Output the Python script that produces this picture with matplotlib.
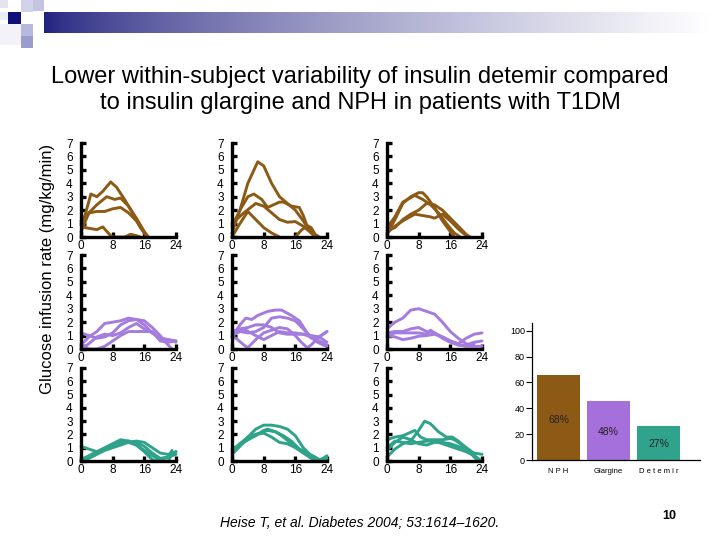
import matplotlib
matplotlib.use("Agg")
import matplotlib.pyplot as plt
import numpy as np
from matplotlib.patches import Rectangle

plt.rcParams["font.family"] = ["Liberation Sans", "DejaVu Sans"]

W, H = 720, 540

BROWN = "#8C5A14"
PURPLE = "#A47BDE"
TEAL = "#2FA38A"

# curves: list of (hour, rate) points, one list per panel
nph_a = [
    [(0, 1.0), (1, 1.6), (2.5, 3.2), (4, 3.0), (5.5, 3.4), (7.5, 4.1), (9, 3.7), (11, 2.8), (13, 1.8), (15, 0.7), (16.5, 0.1), (17, 0)],
    [(0, 0.9), (2, 1.8), (4, 1.9), (6, 1.9), (8, 2.1), (10, 2.2), (12, 1.8), (14, 1.2), (16, 0.3), (17, 0)],
    [(0, 0.4), (2, 1.8), (4, 2.4), (6.5, 3.0), (8.5, 2.8), (10, 2.9), (12, 2.3), (14, 1.4), (16, 0.4), (17, 0)],
    [(0, 1.2), (1, 0.7), (4, 0.55), (5.5, 0.75), (7.5, 0.1), (8, 0), (11, 0), (12.5, 0.2), (14, 0.1), (15, 0)],
]
nph_b = [
    [(0, 0.3), (2, 2.0), (4, 4.0), (6.5, 5.6), (8, 5.3), (10, 4.0), (12, 3.0), (14, 2.5), (16, 2.0), (18, 1.2), (20, 0.3), (21, 0)],
    [(0, 0.8), (2, 2.0), (4, 3.0), (5.5, 3.2), (7.5, 2.8), (9, 2.2), (10.5, 2.4), (12, 2.6), (13, 2.6), (15, 2.3), (17, 2.2), (18, 1.6), (19, 0.8), (20.5, 0.2), (21, 0)],
    [(0, 1.0), (3, 1.8), (6, 2.5), (8, 2.3), (10, 1.8), (12, 1.3), (14, 1.1), (16, 1.15), (18, 0.8), (20, 0.3), (22, 0)],
    [(0, 0), (2, 1.0), (4, 1.9), (6, 1.3), (8, 0.7), (10, 0.3), (12, 0)],
    [(16, 0), (17.5, 0.5), (19, 0.85), (20, 0.7), (21, 0.2), (22, 0)],
]
nph_c = [
    [(0, 0.2), (2, 1.3), (4, 2.5), (6, 3.0), (8, 3.3), (9, 3.3), (10, 3.0), (12, 2.2), (14, 1.2), (16, 0.4), (17, 0)],
    [(0, 0.7), (2, 1.5), (4, 2.6), (7, 3.1), (9, 2.8), (11, 2.4), (13, 1.8), (15, 1.0), (17, 0.3), (18.5, 0)],
    [(0, 0.5), (2, 0.7), (4, 1.3), (6, 1.7), (8, 2.0), (10, 2.5), (12, 2.4), (14, 2.0), (16, 1.4), (18, 0.8), (20, 0.2), (21, 0)],
    [(0, 0.3), (2, 0.8), (4, 1.2), (7, 1.7), (9, 1.6), (11, 1.5), (12, 1.4), (14, 1.7), (16, 1.2), (18, 0.6), (20, 0.1), (20.5, 0)],
]
glar_a = [
    [(0, 1.2), (2, 1.0), (4, 0.8), (6, 0.9), (8, 1.2), (10, 1.8), (12, 2.1), (14, 2.2), (16, 2.1), (18, 1.6), (20, 1.0), (22, 0.3), (23, 0)],
    [(0, 0.3), (2, 0.9), (4, 1.3), (6, 1.9), (8, 2.0), (10, 2.1), (12, 2.3), (14, 2.2), (16, 1.8), (18, 1.2), (20, 0.8), (22, 0.7), (24, 0.5)],
    [(0, 0), (2, 0.4), (4, 0.9), (6, 1.1), (8, 1.0), (10, 1.2), (12, 1.6), (14, 1.9), (16, 1.5), (18, 1.2), (20, 0.8), (22, 0.7), (24, 0.6)],
    [(0, 0.4), (2, 0), (4, 0), (6, 0.2), (8, 0.6), (10, 1.0), (12, 1.3), (14, 1.3), (16, 1.3), (18, 1.3), (20, 0.6), (22, 0.5), (24, 0.6)],
]
glar_b = [
    [(0, 0.9), (2, 1.8), (3.5, 2.3), (5, 2.2), (6.5, 2.5), (9, 2.8), (11, 2.9), (12.5, 2.9), (15, 2.5), (17, 2.1), (19, 1.2), (21, 0.6), (23, 0.3), (24, 0.2)],
    [(0, 1.0), (2, 1.3), (4, 1.2), (6, 1.3), (8, 1.6), (10, 2.3), (12, 2.4), (14, 2.3), (16, 2.1), (18, 1.5), (20, 0.8), (22, 0.9), (24, 1.3)],
    [(0, 1.3), (2, 1.5), (4, 1.6), (6, 1.8), (8, 1.8), (10, 1.6), (12, 1.2), (14, 1.1), (16, 1.1), (18, 1.1), (20, 1.0), (22, 0.9), (24, 0.5)],
    [(0, 0.9), (1, 0.8), (3, 0.3), (4, 0.1), (6, 0.7), (8, 1.2), (10, 1.4), (12, 1.6), (14, 1.5), (16, 1.0), (17.5, 0.5), (19, 0.1), (20, 0.3), (22, 0.9), (24, 1.3)],
    [(0, 1.2), (2, 1.3), (3.5, 1.4), (6, 1.0), (8, 0.7), (10, 1.0), (12, 1.3), (14, 1.2), (16, 1.2), (18, 1.1), (20, 0.9), (22, 0.6), (24, 0.3)],
]
glar_c = [
    [(0, 1.5), (2, 2.0), (4, 2.3), (6, 2.9), (8, 3.0), (10, 2.8), (12, 2.6), (14, 2.0), (16, 1.3), (18, 0.8), (20, 0.4), (21, 0.3), (22, 0.4)],
    [(0, 1.2), (2, 1.3), (4, 1.3), (6, 1.5), (8, 1.6), (10, 1.3), (12, 1.2), (14, 0.9), (16, 0.6), (18, 0.4), (20, 0.8), (22, 1.1), (24, 1.2)],
    [(0, 0.9), (2, 1.2), (4, 1.2), (6, 1.2), (8, 1.2), (10, 1.1), (11, 1.4), (12, 1.2), (14, 0.8), (16, 0.5), (18, 0.3), (20, 0.3), (22, 0.5), (24, 0.6)],
    [(0, 1.0), (2, 0.9), (4, 0.7), (6, 0.8), (8, 0.95), (10, 1.0), (12, 1.1), (14, 0.9), (16, 0.6), (18, 0.3), (20, 0.2), (22, 0.2), (24, 0.2)],
]
det_a = [
    [(0, 1.1), (2, 0.9), (4, 0.7), (6, 0.9), (8, 1.2), (10, 1.4), (12, 1.5), (14, 1.4), (16, 1.1), (18, 0.6), (20, 0.2), (22, 0.3), (24, 0.5)],
    [(0, 0), (2, 0.3), (4, 0.6), (6, 0.9), (8, 1.2), (10, 1.5), (12, 1.4), (14, 1.5), (16, 1.4), (18, 1.0), (20, 0.6), (22, 0.5), (24, 0.7)],
    [(0, 0), (2, 0.2), (4, 0.5), (6, 0.8), (8, 1.0), (10, 1.2), (12, 1.4), (14, 1.2), (16, 0.7), (18, 0.1), (20, 0), (22, 0), (23, 0.5), (24, 0.7)],
    [(0, 0.1), (2, 0.4), (4, 0.7), (6, 1.0), (8, 1.3), (10, 1.6), (12, 1.5), (14, 1.2), (16, 0.8), (18, 0.4), (20, 0.1), (22, 0.3), (23, 0.8)],
]
det_b = [
    [(0, 0.5), (2, 1.1), (4, 1.8), (6, 2.4), (8, 2.7), (10, 2.7), (12, 2.6), (14, 2.4), (16, 1.9), (18, 1.0), (20, 0.4), (22, 0.1), (24, 0.2)],
    [(0, 0.8), (2, 1.3), (4, 1.6), (6, 1.9), (8, 2.3), (9, 2.4), (11, 2.2), (13, 1.8), (15, 1.3), (17, 0.9), (19, 0.5), (21, 0.1), (22, 0), (23, 0.2), (24, 0.4)],
    [(0, 0.9), (2, 1.2), (4, 1.6), (6, 2.0), (8, 2.1), (10, 1.8), (12, 1.4), (14, 1.3), (16, 1.0), (18, 0.6), (20, 0.2), (21, 0)],
    [(0, 0.7), (2, 1.3), (4, 1.8), (6, 2.0), (7, 2.1), (9, 2.3), (11, 2.2), (13, 1.9), (15, 1.5), (17, 0.9), (19, 0.6), (21, 0.3), (22, 0.1)],
]
det_c = [
    [(0, 0.3), (2, 0.9), (4, 1.3), (6, 1.5), (8, 2.3), (9.5, 3.0), (11, 2.8), (13, 2.2), (15, 1.8), (16.5, 1.8), (18, 1.5), (20, 1.0), (22, 0.3), (23, 0)],
    [(0, 1.6), (2, 1.8), (4, 1.9), (5.5, 2.1), (7, 2.3), (8.5, 1.8), (10, 1.6), (12, 1.6), (14, 1.6), (16, 1.7), (17, 1.6), (19, 1.2), (21, 0.8), (22.5, 0.3), (23.5, 0)],
    [(0, 0.8), (2, 1.4), (4, 1.8), (6, 1.6), (8, 1.3), (10, 1.2), (12, 1.4), (14, 1.4), (16, 1.3), (18, 1.1), (20, 0.9), (22, 0.6), (24, 0.5)],
    [(0, 1.0), (2, 1.5), (4, 1.4), (6, 1.3), (8, 1.4), (10, 1.5), (12, 1.5), (14, 1.3), (16, 1.1), (18, 0.9), (20, 0.7), (22, 0.4), (23.5, 0.1)],
]

# variability bar chart
insulins = ["N P H", "Glargine", "D e t e m i r"]
variability = [66, 45.5, 26.5]
variability_labels = ["68%", "48%", "27%"]
bar_colors = [BROWN, "#A56FDC", "#2FA38C"]

hour_ticks = [0, 8, 16, 24]
rate_ticks = [0, 1, 2, 3, 4, 5, 6, 7]


def px_axes(fig, left, top, right, bottom):
    """Add axes from pixel coords (origin top-left)."""
    return fig.add_axes([left / W, 1 - bottom / H, (right - left) / W, (bottom - top) / H])


fig = plt.figure(figsize=(W / 100, H / 100), dpi=100)

# header decoration: gradient band and small squares
band = px_axes(fig, 44, 12, 710, 33)
grad = np.linspace(0, 1, 256)
navy = np.array([0.13, 0.13, 0.50])
white = np.array([1.0, 1.0, 1.0])
mix = np.clip(grad ** 0.7, 0, 1)[:, None]
band.imshow((navy * (1 - mix) + white * mix)[None, :, :], aspect="auto", extent=[0, 1, 0, 1])
band.axis("off")
deco = fig.add_axes([0, 0, 1, 1], zorder=-1)
deco.set_xlim(0, W)
deco.set_ylim(H, 0)
deco.axis("off")
for x, y, s, c in [(0, 0, 8, "#E4E4F0"), (8, 12, 13, "#10107A"), (21, 0, 12, "#D2D2EA"),
                   (33, 0, 11, "#C4C4E2"), (21, 24, 12, "#B8B8DC"), (21, 36, 12, "#9C9CCC"),
                   (0, 12, 8, "#ECECF4"), (0, 24, 21, "#F2F2F8")]:
    deco.add_patch(Rectangle((x, y), s, s, color=c, lw=0))

fig.text(0.5, 1 - 90 / H, "Lower within-subject variability of insulin detemir compared\n"
         "to insulin glargine and NPH in patients with T1DM",
         ha="center", va="center", fontsize=17, linespacing=1.2)

fig.text(48 / W, 1 - 269 / H, "Glucose infusion rate (mg/kg/min)", rotation=90,
         ha="center", va="center", fontsize=12)

panels = [[nph_a, nph_b, nph_c], [glar_a, glar_b, glar_c], [det_a, det_b, det_c]]
colors = [BROWN, PURPLE, TEAL]
col_left = [81, 232, 387]
row_top = [143, 255, 368]
row_bottom = [237, 349, 461]

for r in range(3):
    for c in range(3):
        ax = px_axes(fig, col_left[c], row_top[r], col_left[c] + 95, row_bottom[r])
        for curve in panels[r][c]:
            hrs, vals = zip(*curve)
            ax.plot(hrs, vals, color=colors[r], lw=2.1, solid_joinstyle="round",
                    solid_capstyle="round", clip_on=False)
        ax.set_xlim(0, 24)
        ax.set_ylim(0, 7)
        ax.set_xticks(hour_ticks)
        ax.set_yticks(rate_ticks)
        for s in ["top", "right"]:
            ax.spines[s].set_visible(False)
        for s in ["left", "bottom"]:
            ax.spines[s].set_linewidth(2.4)
        ax.tick_params(direction="in", length=3.5, width=2.4, labelsize=8.5)
        ax.tick_params(axis="y", pad=6)
        ax.tick_params(axis="x", pad=2)
        ax.patch.set_alpha(0)

# bar chart
bx = px_axes(fig, 532, 323, 700, 460)
pos = np.arange(len(insulins))
bx.bar(pos, variability, width=0.86, color=bar_colors)
for p, v, lab in zip(pos, variability, variability_labels):
    bx.text(p, v * 0.47, lab, ha="center", va="center", fontsize=7.5, color="#222222")
bx.set_xlim(-0.53, 2.83)
bx.set_ylim(0, 106)
bx.set_yticks([0, 20, 40, 60, 80, 100])
bx.set_xticks(pos)
bx.set_xticklabels(insulins, fontsize=5.5)
bx.tick_params(axis="x", length=0, pad=6)
bx.tick_params(axis="y", length=4, width=0.8, labelsize=6.5, pad=1)
for s in ["top", "right"]:
    bx.spines[s].set_visible(False)
for s in ["left", "bottom"]:
    bx.spines[s].set_linewidth(0.9)

fig.text(220 / W, 1 - 523 / H, "Heise T, et al. Diabetes 2004; 53:1614\u20131620.",
         ha="left", va="center", fontsize=10, style="italic")
fig.text(669 / W, 1 - 516 / H, "10", ha="center", va="center", fontsize=9, weight="bold")

fig.savefig("out.png", dpi=100)
